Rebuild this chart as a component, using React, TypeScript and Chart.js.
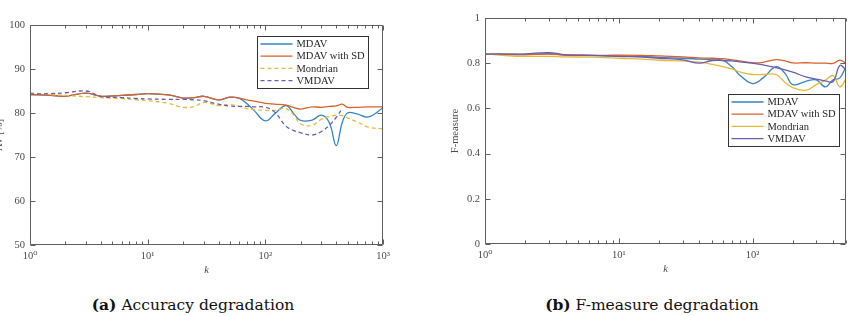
import React, { useEffect, useRef } from "react";
import { Chart, registerables } from "chart.js";

Chart.register(...registerables);

// ---------- data ----------
const seriesNames = ["MDAV", "MDAV with SD", "Mondrian", "VMDAV"];

const kAcc = [1, 1.5, 2, 3, 4, 6, 8, 10, 15, 20, 25, 30, 40, 50, 60, 70, 80, 100, 120, 150, 175, 200, 250, 300, 350, 400, 450, 500, 600, 750, 1000];
const accMDAV = [84.2, 84.0, 83.8, 84.5, 83.8, 84.0, 84.2, 84.4, 84.1, 83.4, 83.5, 83.8, 83.0, 83.6, 83.3, 82.1, 80.6, 78.2, 79.8, 81.7, 79.8, 78.3, 78.4, 79.5, 77.8, 72.6, 77.8, 80.0, 79.8, 79.1, 81.2];
const accMDAVSD = [84.2, 84.0, 83.8, 84.5, 83.8, 84.0, 84.2, 84.4, 84.1, 83.4, 83.5, 83.8, 83.0, 83.6, 83.4, 83.0, 82.7, 82.2, 82.0, 81.8, 81.2, 80.9, 81.4, 81.3, 81.5, 81.6, 82.0, 81.3, 81.3, 81.4, 81.4];
const accMondrian = [84.6, 84.2, 84.0, 83.7, 83.5, 83.3, 83.0, 82.8, 82.2, 81.3, 81.5, 82.4, 81.7, 81.9, 81.5, 81.0, 80.8, 80.6, 80.6, 81.0, 79.5, 77.5, 77.2, 78.6, 79.2, 79.5, 79.4, 78.9, 78.0, 76.8, 76.4];
const accVMDAV = [84.3, 84.4, 84.6, 85.0, 83.8, 83.5, 83.3, 83.2, 83.1, 83.1, 83.0, 82.8, 82.0, 81.6, 81.5, 81.5, 81.4, 81.3, 80.2, 77.0, 76.0, 75.5, 75.0, 75.8, 77.2, 79.0, 81.0, null, null, null, null];

const kF = [1, 1.5, 2, 3, 4, 6, 8, 10, 15, 20, 30, 40, 50, 60, 70, 80, 100, 120, 150, 175, 200, 250, 300, 350, 400, 450, 500];
const fMDAV = [0.840, 0.839, 0.838, 0.842, 0.836, 0.834, 0.833, 0.832, 0.830, 0.826, 0.822, 0.818, 0.815, 0.812, 0.785, 0.748, 0.710, 0.735, 0.785, 0.755, 0.705, 0.720, 0.726, 0.695, 0.726, 0.735, 0.785];
const fMDAVSD = [0.840, 0.839, 0.838, 0.840, 0.836, 0.835, 0.835, 0.836, 0.835, 0.832, 0.828, 0.824, 0.822, 0.820, 0.815, 0.810, 0.802, 0.804, 0.816, 0.810, 0.801, 0.802, 0.800, 0.800, 0.799, 0.814, 0.800];
const fMondrian = [0.842, 0.833, 0.830, 0.830, 0.828, 0.827, 0.825, 0.822, 0.818, 0.813, 0.810, 0.805, 0.795, 0.785, 0.775, 0.762, 0.750, 0.750, 0.750, 0.715, 0.692, 0.680, 0.705, 0.725, 0.745, 0.695, 0.730];
const fVMDAV = [0.840, 0.840, 0.841, 0.847, 0.837, 0.835, 0.833, 0.830, 0.827, 0.822, 0.815, 0.800, 0.812, 0.812, 0.810, 0.806, 0.800, 0.793, 0.780, 0.770, 0.760, 0.740, 0.730, 0.722, 0.718, 0.790, 0.770];

const accYTicks = [50, 60, 70, 80, 90, 100];
const fYTicks = [0, 0.2, 0.4, 0.6, 0.8, 1];

// ---------- styles ----------
const FONT = "'Liberation Serif', 'DejaVu Serif', serif";
const COLORS = ["#3585c4", "#d9622b", "#e8b83a", "#6c5cae"];
const SUP = ["\u2070", "\u00b9", "\u00b2", "\u00b3", "\u2074"];

const framePlugin = {
  id: "frame",
  afterDraw(chart: any, _args: any, opts: any) {
    const { ctx, chartArea: ca, scales } = chart;
    const xs = scales.x;
    const ys = scales.y;
    const L = Math.round(ca.left) + 0.5;
    const R = Math.round(ca.right) - 0.5;
    const T = Math.round(ca.top) + 0.5;
    const B = Math.round(ca.bottom) - 0.5;
    ctx.save();
    ctx.strokeStyle = "#5f5f5f";
    ctx.lineWidth = 1;
    ctx.setLineDash([]);
    ctx.beginPath();
    ctx.rect(L, T, R - L, B - T);
    const e0 = Math.floor(Math.log10(xs.min));
    const e1 = Math.ceil(Math.log10(xs.max));
    for (let e = e0; e <= e1; e++) {
      for (let m = 1; m < 10; m++) {
        const v = m * Math.pow(10, e);
        if (v < xs.min - 1e-9 || v > xs.max + 1e-9) continue;
        const px = Math.round(xs.getPixelForValue(v)) + 0.5;
        const len = m === 1 ? 5 : 3;
        ctx.moveTo(px, B);
        ctx.lineTo(px, B - len);
        ctx.moveTo(px, T);
        ctx.lineTo(px, T + len);
      }
    }
    ys.ticks.forEach((t: any) => {
      const py = Math.round(ys.getPixelForValue(t.value)) + 0.5;
      ctx.moveTo(L, py);
      ctx.lineTo(L + 5, py);
      ctx.moveTo(R, py);
      ctx.lineTo(R - 5, py);
    });
    ctx.stroke();

    // legend box
    const w = 111;
    const h = 52;
    const bx = Math.round(ca.right - opts.right - w) + 0.5;
    const by = Math.round(ca.top + opts.top) + 0.5;
    ctx.fillStyle = "#ffffff";
    ctx.fillRect(bx, by, w, h);
    ctx.strokeStyle = "#333333";
    ctx.lineWidth = 1;
    ctx.strokeRect(bx, by, w, h);
    chart.data.datasets.forEach((ds: any, i: number) => {
      const y = by + 7.5 + i * 12.2;
      ctx.strokeStyle = ds.borderColor;
      ctx.lineWidth = ds.borderWidth;
      ctx.setLineDash(ds.borderDash || []);
      ctx.beginPath();
      ctx.moveTo(bx + 3, y);
      ctx.lineTo(bx + 35, y);
      ctx.stroke();
      ctx.setLineDash([]);
      ctx.fillStyle = "#262626";
      ctx.font = "10.5px " + FONT;
      ctx.textBaseline = "middle";
      ctx.textAlign = "left";
      ctx.fillText(ds.label, bx + 39, y + 0.5);
    });
    ctx.restore();
  },
};

function toPoints(k: number[], v: (number | null)[]) {
  const out: { x: number; y: number }[] = [];
  k.forEach((kk, i) => {
    if (v[i] !== null && v[i] !== undefined) out.push({ x: kk, y: v[i] as number });
  });
  return out;
}

function buildConfig(p: any): any {
  return {
    type: "line",
    data: {
      datasets: p.series.map((s: (number | null)[], i: number) => ({
        label: seriesNames[i],
        data: toPoints(p.k, s),
        borderColor: COLORS[i],
        backgroundColor: COLORS[i],
        borderWidth: 1.3,
        borderDash: p.dashed[i] ? [4, 3] : [],
        pointRadius: 0,
        tension: 0.4,
        fill: false,
        order: 10 - i,
      })),
    },
    options: {
      responsive: false,
      animation: false,
      devicePixelRatio: 1,
      layout: { padding: { top: p.padTop, right: p.padRight, left: 0, bottom: 0 } },
      plugins: {
        legend: { display: false },
        tooltip: { enabled: false },
        frame: { right: p.legendRight, top: p.legendTop },
      },
      scales: {
        x: {
          type: "logarithmic",
          min: 1,
          max: p.xMax,
          grid: { display: false, drawTicks: false },
          border: { display: false },
          ticks: {
            autoSkip: false,
            maxRotation: 0,
            padding: 5,
            color: "#4a4a4a",
            font: { family: FONT, size: 10.5 },
            callback: (v: any) => {
              const l = Math.log10(Number(v));
              const r = Math.round(l);
              return Math.abs(l - r) < 1e-6 ? "10" + SUP[r] : "";
            },
          },
          title: {
            display: true,
            text: "k",
            color: "#4a4a4a",
            font: { family: FONT, size: 10.5, style: "italic" },
            padding: { top: 0, bottom: p.xTitlePad },
          },
          afterFit: (s: any) => {
            s.height = p.xAxisHeight;
          },
        },
        y: {
          type: "linear",
          min: p.yTicks[0],
          max: p.yTicks[p.yTicks.length - 1],
          afterBuildTicks: (s: any) => {
            s.ticks = p.yTicks.map((v: number) => ({ value: v }));
          },
          grid: { display: false, drawTicks: false },
          border: { display: false },
          ticks: {
            padding: 5,
            color: "#4a4a4a",
            font: { family: FONT, size: 10.5 },
            callback: (v: any) => String(Math.round(Number(v) * 10) / 10),
          },
          title: {
            display: true,
            text: p.yTitle,
            color: "#4a4a4a",
            font: { family: FONT, size: 10.5 },
            padding: { top: p.yTitlePad, bottom: 0 },
          },
          afterFit: (s: any) => {
            s.width = p.yAxisWidth;
          },
        },
      },
    },
    plugins: [framePlugin],
  };
}

function ChartCanvas({ config, left, width, height }: { config: () => any; left: number; width: number; height: number }) {
  const ref = useRef<HTMLCanvasElement>(null);
  useEffect(() => {
    const chart = new Chart(ref.current as HTMLCanvasElement, config());
    return () => chart.destroy();
  }, []);
  return (
    <canvas
      ref={ref}
      width={width}
      height={height}
      style={{ position: "absolute", left, top: 0, width, height, display: "block" }}
    />
  );
}

const accConfig = () =>
  buildConfig({
    k: kAcc,
    series: [accMDAV, accMDAVSD, accMondrian, accVMDAV],
    dashed: [false, false, true, true],
    xMax: 1000,
    yTicks: accYTicks,
    yTitle: "AV [%]",
    yTitlePad: -7.3,
    xTitlePad: 13.7,
    yAxisWidth: 30,
    xAxisHeight: 45,
    padTop: 25,
    padRight: 17,
    legendRight: 15,
    legendTop: 11,
  });

const fConfig = () =>
  buildConfig({
    k: kF,
    series: [fMDAV, fMDAVSD, fMondrian, fVMDAV],
    dashed: [false, false, false, false],
    xMax: 500,
    yTicks: fYTicks,
    yTitle: "F-measure",
    yTitlePad: 18.7,
    xTitlePad: 14.4,
    yAxisWidth: 55,
    xAxisHeight: 46,
    padTop: 18,
    padRight: 2,
    legendRight: 7,
    legendTop: 76,
  });

const captionStyle: React.CSSProperties = {
  position: "absolute",
  top: 296,
  textAlign: "center",
  fontFamily: "'DejaVu Serif', serif",
  fontSize: 15.5,
  lineHeight: "18px",
  color: "#111",
  whiteSpace: "nowrap",
};

export default function App() {
  return (
    <div style={{ position: "absolute", left: 0, top: 0, width: 851, height: 316, overflow: "hidden", background: "#fff" }}>
      <ChartCanvas config={accConfig} left={0} width={400} height={290} />
      <ChartCanvas config={fConfig} left={430} width={421} height={290} />
      <div style={{ ...captionStyle, left: 0, width: 386 }}>
        <span style={{ fontWeight: "bold" }}>(a)</span> Accuracy degradation
      </div>
      <div style={{ ...captionStyle, left: 452, width: 400 }}>
        <span style={{ fontWeight: "bold" }}>(b)</span> F-measure degradation
      </div>
    </div>
  );
}
